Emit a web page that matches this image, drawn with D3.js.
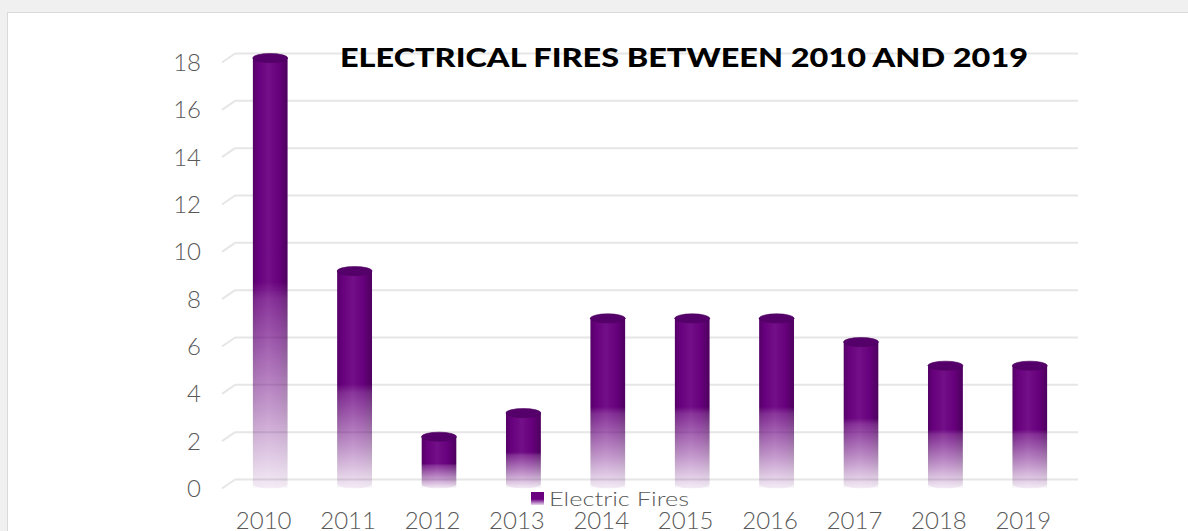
<!DOCTYPE html>
<html>
<head>
<meta charset="utf-8">
<script src="https://cdn.jsdelivr.net/npm/d3@7"></script>
<style>
  html, body { margin: 0; padding: 0; background: #f0f0f0; overflow: hidden; }
  svg { display: block; }
  .tick-label { font-family: Lato, sans-serif; font-weight: 300; fill: #595959; }
</style>
</head>
<body>
<svg id="chart" width="1188" height="531"></svg>
<script>
// chart data
const years = ['2010', '2011', '2012', '2013', '2014', '2015', '2016', '2017', '2018', '2019'];
const fires = [18, 9, 2, 3, 7, 7, 7, 6, 5, 5];
const yTicks = [0, 2, 4, 6, 8, 10, 12, 14, 16, 18];
const seriesName = 'Electric Fires';
const title = 'ELECTRICAL FIRES BETWEEN 2010 AND 2019';

const svg = d3.select('#chart');
const width = +svg.attr('width');
const height = +svg.attr('height');

const purple = '#6a0080';
const depth = 4.5;   // half depth of the 3d floor
const skew = 6.5;

// white card
svg.append('rect')
    .attr('x', 7.5).attr('y', 12.5)
    .attr('width', width).attr('height', height)
    .attr('fill', '#fff')
    .attr('stroke', '#d9d9d9');

const xScale = d3.scaleBand()
    .domain(years)
    .range([228, 1072])
    .paddingInner(0.585)
    .paddingOuter(0.2925);

const yScale = d3.scaleLinear()
    .domain([0, 18])
    .range([484, 58]);

const defs = svg.append('defs');

// vertical fade used as mask
const fade = defs.append('linearGradient')
    .attr('id', 'fade')
    .attr('x1', 0).attr('y1', 0).attr('x2', 0).attr('y2', 1);
fade.append('stop').attr('offset', '0').attr('stop-color', '#fff');
fade.append('stop').attr('offset', '0.52').attr('stop-color', '#fff');
fade.append('stop').attr('offset', '0.56').attr('stop-color', '#d4d4d4');
fade.append('stop').attr('offset', '0.8').attr('stop-color', '#707070');
fade.append('stop').attr('offset', '1').attr('stop-color', '#141414');

// cylinder shading left to right
const shade = defs.append('linearGradient')
    .attr('id', 'shade')
    .attr('x1', 0).attr('y1', 0).attr('x2', 1).attr('y2', 0);
shade.append('stop').attr('offset', '0').attr('stop-color', '#2a0035').attr('stop-opacity', 0.35);
shade.append('stop').attr('offset', '0.15').attr('stop-color', '#2a0035').attr('stop-opacity', 0.05);
shade.append('stop').attr('offset', '0.45').attr('stop-color', '#fff').attr('stop-opacity', 0.06);
shade.append('stop').attr('offset', '0.75').attr('stop-color', '#2a0035').attr('stop-opacity', 0.05);
shade.append('stop').attr('offset', '0.9').attr('stop-color', '#2a0035').attr('stop-opacity', 0.3);
shade.append('stop').attr('offset', '1').attr('stop-color', '#2a0035').attr('stop-opacity', 0.45);

const legendGrad = defs.append('linearGradient')
    .attr('id', 'legendGrad')
    .attr('x1', 0).attr('y1', 0).attr('x2', 0).attr('y2', 1);
legendGrad.append('stop').attr('offset', '0').attr('stop-color', purple);
legendGrad.append('stop').attr('offset', '0.55').attr('stop-color', purple);
legendGrad.append('stop').attr('offset', '1').attr('stop-color', '#e9d6ee');

// gridlines with the little 3d floor edge
const grid = svg.append('g');
grid.selectAll('line.back').data(yTicks)
    .enter().append('line')
    .attr('class', 'back')
    .attr('x1', 235).attr('x2', 1078)
    .attr('y1', d => yScale(d) - depth)
    .attr('y2', d => yScale(d) - depth)
    .attr('stroke', '#e6e6e6')
    .attr('stroke-width', 2);
grid.selectAll('line.edge').data(yTicks)
    .enter().append('line')
    .attr('class', 'edge')
    .attr('x1', 222).attr('x2', 235)
    .attr('y1', d => yScale(d) + depth)
    .attr('y2', d => yScale(d) - depth)
    .attr('stroke', '#e6e6e6')
    .attr('stroke-width', 2);

// y tick labels
svg.append('g').selectAll('text').data(yTicks)
    .enter().append('text')
    .attr('class', 'tick-label')
    .attr('x', 201)
    .attr('y', d => yScale(d) + depth)
    .attr('dy', '0.36em')
    .attr('text-anchor', 'end')
    .style('font-size', '24px')
    .text(d => d);

// cylinders
const bw = xScale.bandwidth();
const masks = defs.selectAll('mask').data(fires)
    .enter().append('mask')
    .attr('id', (d, i) => 'm' + i)
    .attr('maskUnits', 'userSpaceOnUse')
    .attr('x', 0).attr('y', 0).attr('width', width).attr('height', height);
masks.append('rect')
    .attr('x', (d, i) => xScale(years[i]))
    .attr('y', d => yScale(d))
    .attr('width', bw)
    .attr('height', d => yScale(0) - yScale(d) + depth)
    .attr('fill', 'url(#fade)');

const bars = svg.append('g').selectAll('g').data(fires)
    .enter().append('g');

const body = bars.append('g')
    .attr('mask', (d, i) => 'url(#m' + i + ')');
body.append('rect')
    .attr('x', (d, i) => xScale(years[i]))
    .attr('y', d => yScale(d))
    .attr('width', bw)
    .attr('height', d => yScale(0) - yScale(d))
    .attr('fill', purple);
body.append('ellipse')
    .attr('cx', (d, i) => xScale(years[i]) + bw / 2)
    .attr('cy', yScale(0))
    .attr('rx', bw / 2)
    .attr('ry', depth)
    .attr('fill', purple);
body.append('rect')
    .attr('x', (d, i) => xScale(years[i]))
    .attr('y', d => yScale(d))
    .attr('width', bw)
    .attr('height', d => yScale(0) - yScale(d) + depth)
    .attr('fill', 'url(#shade)');

bars.append('ellipse')
    .attr('cx', (d, i) => xScale(years[i]) + bw / 2)
    .attr('cy', d => yScale(d))
    .attr('rx', bw / 2)
    .attr('ry', depth)
    .attr('fill', '#55006a')
    .attr('stroke', '#4a005c')
    .attr('stroke-width', 0.6);

// x labels
svg.append('g').selectAll('text').data(years)
    .enter().append('text')
    .attr('class', 'tick-label')
    .attr('x', d => xScale(d) + bw / 2 - skew)
    .attr('y', 529)
    .attr('text-anchor', 'middle')
    .style('font-size', '24px')
    .text(d => d);

// legend
svg.append('rect')
    .attr('x', 531).attr('y', 492)
    .attr('width', 13).attr('height', 13)
    .attr('fill', 'url(#legendGrad)');
svg.append('text')
    .attr('class', 'tick-label')
    .attr('x', 549).attr('y', 506)
    .attr('textLength', 140)
    .attr('lengthAdjust', 'spacingAndGlyphs')
    .style('font-size', '20px')
    .text(seriesName);

// title
svg.append('text')
    .attr('x', 340).attr('y', 67)
    .attr('textLength', 688)
    .attr('lengthAdjust', 'spacingAndGlyphs')
    .style('font-family', 'Lato, sans-serif')
    .style('font-weight', 900)
    .style('font-size', '27px')
    .style('fill', '#000')
    .text(title);
</script>
</body>
</html>
